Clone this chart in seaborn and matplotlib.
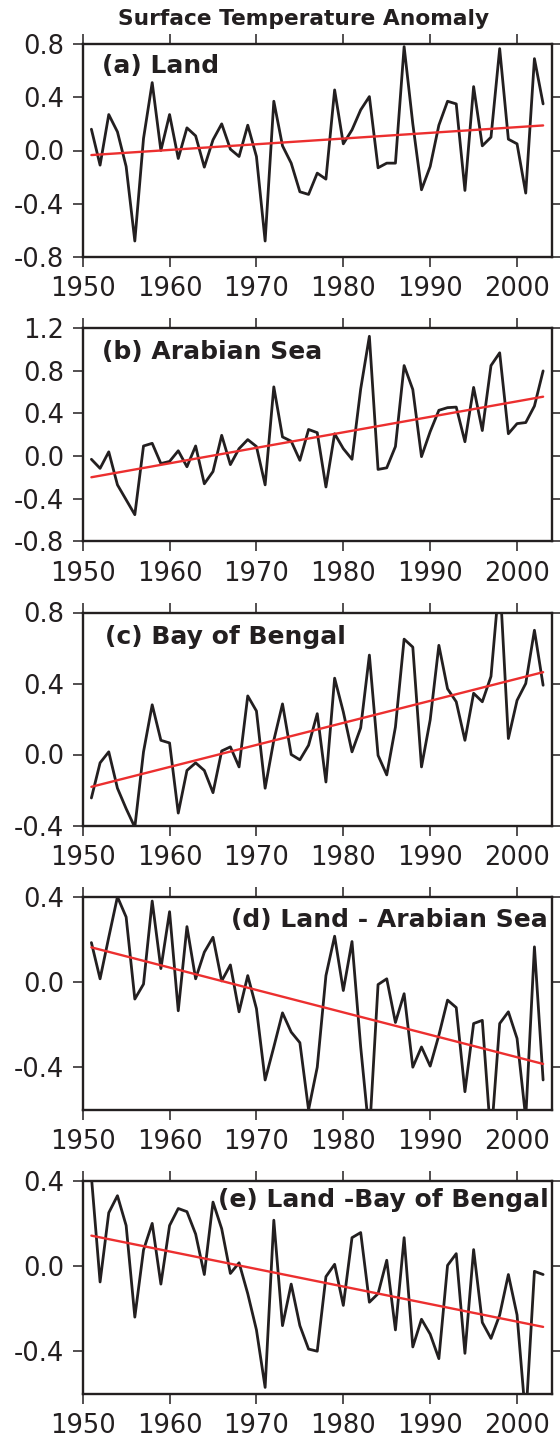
import numpy as np
import pandas as pd
import matplotlib
matplotlib.use("Agg")
import matplotlib.pyplot as plt
from matplotlib.ticker import FormatStrFormatter
import seaborn as sns

years = list(range(1951, 2004))

land = [0.16, -0.11, 0.27, 0.14, -0.12, -0.68, 0.09, 0.51, 0.0, 0.27,
        -0.06, 0.17, 0.11, -0.125, 0.08, 0.2, 0.01, -0.045, 0.19, -0.045,
        -0.68, 0.37, 0.035, -0.095, -0.31, -0.33, -0.17, -0.215, 0.455, 0.05,
        0.155, 0.305, 0.405, -0.13, -0.095, -0.095, 0.78, 0.2, -0.295, -0.12,
        0.19, 0.37, 0.35, -0.3, 0.48, 0.035, 0.10, 0.765, 0.085, 0.05,
        -0.32, 0.69, 0.35]

arabian = [-0.03, -0.115, 0.04, -0.27, -0.41, -0.55, 0.095, 0.12, -0.07, -0.05,
           0.05, -0.1, 0.095, -0.26, -0.145, 0.195, -0.08, 0.07, 0.155, 0.09,
           -0.27, 0.65, 0.18, 0.14, -0.04, 0.25, 0.22, -0.29, 0.21, 0.07,
           -0.03, 0.63, 1.125, -0.125, -0.11, 0.09, 0.85, 0.625, -0.005, 0.23,
           0.43, 0.455, 0.46, 0.135, 0.645, 0.24, 0.85, 0.97, 0.21, 0.305,
           0.315, 0.47, 0.8]

bengal = [-0.245, -0.047, 0.015, -0.19, -0.305, -0.41, 0.015, 0.28, 0.08, 0.065,
          -0.33, -0.09, -0.047, -0.09, -0.215, 0.02, 0.043, -0.07, 0.33, 0.245,
          -0.19, 0.08, 0.285, 0.0, -0.03, 0.052, 0.23, -0.155, 0.43, 0.24,
          0.015, 0.15, 0.56, -0.005, -0.115, 0.155, 0.65, 0.605, -0.07, 0.195,
          0.615, 0.37, 0.297, 0.08, 0.345, 0.297, 0.44, 1.0, 0.09, 0.305,
          0.4, 0.7, 0.39]

land_arabian = [0.185, 0.015, 0.21, 0.4, 0.305, -0.08, -0.01, 0.38, 0.063, 0.33,
                -0.135, 0.26, 0.015, 0.14, 0.21, 0.005, 0.08, -0.14, 0.03, -0.125,
                -0.46, -0.305, -0.145, -0.235, -0.285, -0.6, -0.4, 0.03, 0.215, -0.04,
                0.19, -0.305, -0.72, -0.012, 0.015, -0.19, -0.055, -0.4, -0.305, -0.395,
                -0.25, -0.085, -0.12, -0.515, -0.195, -0.18, -0.74, -0.195, -0.14, -0.265,
                -0.64, 0.165, -0.46]

land_bengal = [0.42, -0.075, 0.25, 0.33, 0.19, -0.24, 0.075, 0.2, -0.085, 0.19,
               0.27, 0.255, 0.15, -0.04, 0.3, 0.175, -0.035, 0.015, -0.13, -0.3,
               -0.57, 0.215, -0.28, -0.085, -0.28, -0.39, -0.4, -0.05, 0.008, -0.185,
               0.133, 0.157, -0.17, -0.13, 0.027, -0.3, 0.133, -0.38, -0.25, -0.32,
               -0.435, 0.003, 0.058, -0.41, 0.077, -0.265, -0.34, -0.23, -0.04, -0.23,
               -0.72, -0.025, -0.04]

panel_labels = ["(a) Land", "(b) Arabian Sea", "(c) Bay of Bengal",
                "(d) Land - Arabian Sea", "(e) Land -Bay of Bengal"]
series = [land, arabian, bengal, land_arabian, land_bengal]
ylims = [(-0.8, 0.8), (-0.8, 1.2), (-0.4, 0.8), (-0.6, 0.4), (-0.6, 0.4)]
yticks = [[-0.8, -0.4, 0.0, 0.4, 0.8],
          [-0.8, -0.4, 0.0, 0.4, 0.8, 1.2],
          [-0.4, 0.0, 0.4, 0.8],
          [-0.4, 0.0, 0.4],
          [-0.4, 0.0, 0.4]]
xticks = [1950, 1960, 1970, 1980, 1990, 2000]
title = "Surface Temperature Anomaly"

sns.set_style("ticks")
plt.rcParams["font.family"] = ["DejaVu Sans"]
plt.rcParams["axes.unicode_minus"] = False

INK = "#231f20"
RED = "#ec2f2f"
W, H = 560, 1437
fig = plt.figure(figsize=(W / 100, H / 100), dpi=100)

left_px, right_px = 82.7, 551.8
tops = [44.0, 328.3, 612.5, 896.8, 1180.8]
height_px = 213.0

# label placement: (x in axes fraction, baseline in axes fraction, ha)
label_pos = [(0.0405, 0.862, "left"), (0.042, 0.854, "left"), (0.047, 0.854, "left"),
             (0.992, 0.859, "right"), (0.994, 0.878, "right")]

for i, vals in enumerate(series):
    top = tops[i]
    ax = fig.add_axes([left_px / W, 1 - (top + height_px) / H,
                       (right_px - left_px) / W, height_px / H])
    df = pd.DataFrame({"year": years, "value": vals})
    sns.lineplot(data=df, x="year", y="value", ax=ax, color=INK, lw=2.0)
    sns.regplot(data=df, x="year", y="value", ax=ax, scatter=False, ci=None,
                truncate=True, line_kws=dict(color=RED, lw=1.7))
    ax.set_xlim(1950, 2004)
    ax.set_ylim(*ylims[i])
    ax.set_xticks(xticks)
    ax.set_yticks(yticks[i])
    ax.yaxis.set_major_formatter(FormatStrFormatter("%.1f"))
    ax.set_xlabel("")
    ax.set_ylabel("")
    for sp in ax.spines.values():
        sp.set_visible(True)
        sp.set_linewidth(1.7)
        sp.set_color(INK)
    ax.tick_params(axis="both", direction="out", length=7.5, width=1.1,
                   color=INK, labelcolor=INK, labelsize=18.5,
                   top=True, right=True, labeltop=False, labelright=False)
    ax.tick_params(axis="x", pad=6.5)
    ax.tick_params(axis="y", pad=6.0)
    lx, ly, ha = label_pos[i]
    ax.text(lx, ly, panel_labels[i], transform=ax.transAxes, ha=ha, va="baseline",
            fontsize=18, fontweight="bold", color=INK)

fig.text(304 / W, 1 - 25 / H, title, ha="center", va="baseline",
         fontsize=15.7, fontweight="bold", color=INK)

fig.savefig("out.png", dpi=100)
